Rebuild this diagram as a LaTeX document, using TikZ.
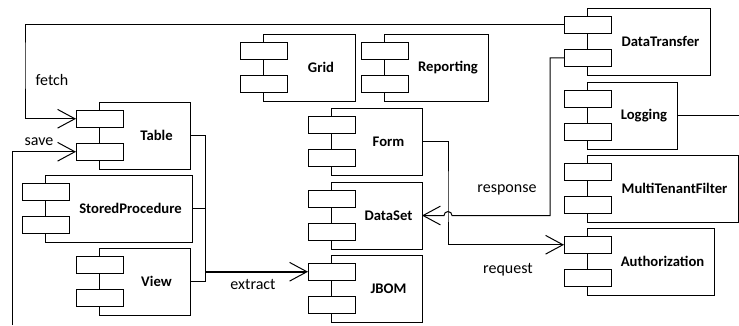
\documentclass[tikz,border=0pt]{standalone}
\usepackage{fontspec}
\setmainfont{Carlito}
\usetikzlibrary{arrows.meta,calc}

\tikzset{
  compbox/.style={draw=black, line width=0.75pt, fill=white, inner sep=0pt, outer sep=0pt,
    minimum height=50.25pt},
  port/.style={draw=black, line width=0.75pt, fill=white, inner sep=0pt, outer sep=0pt,
    minimum width=35.25pt, minimum height=12.375pt},
  complabel/.style={font=\fontsize{11pt}{13pt}\selectfont\bfseries, inner sep=0pt},
  edgelabel/.style={font=\fontsize{12pt}{14pt}\selectfont, inner sep=0pt},
  wire/.style={draw=black, line width=0.75pt},
  dep/.style={wire, -{Straight Barb[length=13pt, width=14pt, line width=0.75pt]}},
}

% component: name, left, top, right, label
\newcommand{\compo}[5]{%
  \node[compbox, minimum width={(#4-#2)*0.75pt}, anchor=north west] (#1) at (#2,#3) {};
  \node[port, anchor=north west] (#1-p1) at ({#2-23},{#3+8.5}) {};
  \node[port, anchor=north west] (#1-p2) at ({#2-23},{#3+41.5}) {};
  \node[complabel] (#1-lbl) at ({(#2+24+#4)/2},{#3+33.5}) {#5};
}

\begin{document}
\begin{tikzpicture}[x=0.75pt, y=-0.75pt]
\useasboundingbox (0,0) rectangle (739,325);

% components
\compo{tbl}{99}{102}{190}{Table}
\compo{sp}{45}{175}{192}{StoredProcedure}
\compo{view}{99}{248}{190}{View}
\compo{grid}{263}{34}{355}{Grid}
\compo{rep}{384}{34}{488}{Reporting}
\compo{form}{331}{108}{422}{Form}
\compo{ds}{331}{182}{422}{DataSet}
\compo{jbom}{331}{255}{422}{JBOM}
\compo{dt}{587}{8}{710}{DataTransfer}
\compo{log}{587}{82}{677}{Logging}
\compo{mtf}{587}{155}{738}{MultiTenantFilter}
\compo{auth}{587}{228}{714}{Authorization}

% routing points
\coordinate (fetchx) at (25,60);
\coordinate (savefoot) at (12,325);
\coordinate (busx) at (205,0);
\coordinate (formx) at (448,200);
\coordinate (respx) at (550,0);
\coordinate (logout) at (739,115.5);

% fetch
\draw[dep] (dt-p1.west) -| (fetchx) |- (tbl-p1.west);
\node[edgelabel] (fetchlbl) at (52,80) {fetch};

% save
\draw[dep] (savefoot) |- (tbl-p2.west);
\node[edgelabel] (savelbl) at (39,142) {save};

% extract bus
\draw[wire] (tbl.east) -| (busx |- view.east) -- (view.east);
\draw[wire] (sp.east) -- (sp.east -| busx);
\draw[dep, line width=1.2pt] (jbom-p1.west -| busx) -- (jbom-p1.west);
\node[edgelabel] (extractlbl) at (253,284) {extract};

% request
\draw[dep] (form.east) -| (formx) |- (auth-p1.west);
\node[edgelabel] (requestlbl) at (508,270) {request};

% response, hopping over the request line
\draw[dep] (dt-p2.west) -| (respx |- ds.east) -- ($(formx |- ds.east)+(3*1.333,0)$)
  arc[start angle=0, end angle=180, radius=3pt] -- (ds.east);
\node[edgelabel] (responselbl) at (507,190) {response};

% logging outlet
\draw[wire] (log.east) -- (logout);

\end{tikzpicture}
\end{document}
